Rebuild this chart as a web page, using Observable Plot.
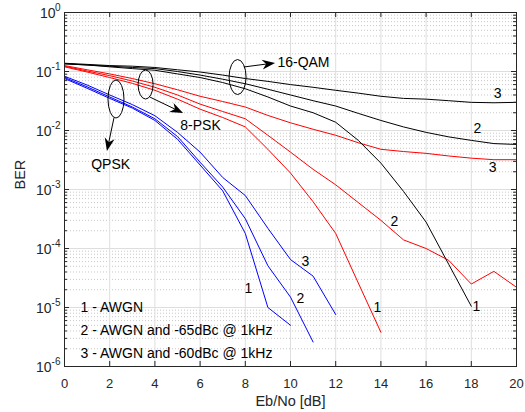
<!DOCTYPE html>
<html><head><meta charset="utf-8">
<script src="https://cdn.jsdelivr.net/npm/d3@7"></script>
<script src="https://cdn.jsdelivr.net/npm/@observablehq/plot@0.6"></script>
<style>
html,body{margin:0;padding:0;background:#fff;}
#chart svg{display:block;font-family:"Liberation Sans",Arial,sans-serif;}
</style></head><body><div id="chart"></div>
<script>
// Eb/No axis values [dB]
const ebno = [0,1,2,3,4,5,6,7,8,9,10,11,12,13,14,15,16,17,18,19,20];

// BER series (1 = AWGN, 2 = -65dBc, 3 = -60dBc)
const qpsk_1 = [0.076, 0.052, 0.035, 0.024, 0.0148, 0.0071, 0.0026, 0.00095, 0.00018, 1.0e-5, 5.0e-6];
const qpsk_2 = [0.079, 0.055, 0.037, 0.025, 0.0158, 0.0079, 0.0029, 0.0011, 0.00032, 5.1e-5, 1.5e-5, 2.6e-6];
const qpsk_3 = [0.083, 0.059, 0.040, 0.0275, 0.0178, 0.0093, 0.0043, 0.0016, 0.00079, 0.00022, 6.5e-5, 3.4e-5, 7.6e-6];
const psk8_1 = [0.120, 0.098, 0.079, 0.063, 0.048, 0.034, 0.023, 0.0166, 0.0115, 0.0048, 0.0019, 0.00062, 0.00018, 2.6e-5, 3.8e-6];
const psk8_2 = [0.123, 0.102, 0.085, 0.069, 0.054, 0.040, 0.028, 0.021, 0.0158, 0.0083, 0.0043, 0.0022, 0.0012, 0.0006, 0.0003, 0.00014, 0.0001, 6.3e-5, 2.5e-5, 4.1e-5, 2.2e-5];
const psk8_3 = [0.126, 0.107, 0.091, 0.076, 0.062, 0.049, 0.038, 0.031, 0.025, 0.018, 0.0135, 0.0105, 0.0083, 0.0062, 0.0048, 0.0044, 0.0041, 0.0037, 0.0034, 0.0032, 0.0032];
const qam16_1 = [0.135, 0.129, 0.120, 0.112, 0.105, 0.091, 0.079, 0.065, 0.051, 0.037, 0.026, 0.020, 0.0138, 0.0068, 0.0028, 0.00093, 0.00028, 5.4e-5, 1.05e-5];
const qam16_2 = [0.135, 0.129, 0.123, 0.117, 0.112, 0.100, 0.087, 0.074, 0.062, 0.050, 0.040, 0.032, 0.026, 0.0195, 0.0148, 0.0115, 0.0093, 0.0078, 0.0068, 0.006, 0.0058];
const qam16_3 = [0.138, 0.132, 0.126, 0.123, 0.117, 0.107, 0.098, 0.087, 0.076, 0.068, 0.060, 0.054, 0.048, 0.043, 0.038, 0.035, 0.034, 0.032, 0.030, 0.0295, 0.030];

// tick labels
const xTicks = [0,2,4,6,8,10,12,14,16,18,20];
const yExponents = [0,-1,-2,-3,-4,-5,-6];

// annotation texts (positions in data units)
const curveLabelText = ["1","2","3","1","2","3","1","2","3"];
const curveLabelX    = [8.14, 10.44, 10.66, 13.85, 14.6, 18.94, 18.23, 18.27, 19.16];
const curveLabelY    = [2.1e-5, 1.4e-5, 6.0e-5, 1.0e-5, 2.9e-4, 0.00236, 1.05e-5, 0.0108, 0.0424];
const noteText = ["1 - AWGN", "2 - AWGN and -65dBc @ 1kHz", "3 - AWGN and -60dBc @ 1kHz"];
const noteY = [1.0e-5, 4.1e-6, 1.66e-6];
const noteX = 0.71;
const groupNames = ["QPSK", "8-PSK", "16-QAM"];
const groupTextX = [2.04, 6.02, 9.42];
const groupTextY = [0.00265, 0.0122, 0.142];
const ellipseX = [2.30, 3.61, 7.68];
const ellipseY = [0.0335, 0.059, 0.079];
const arrowFromX = [2.21, 3.81, 7.96];
const arrowFromY = [0.016, 0.036, 0.117];
const arrowToX = [1.90, 5.27, 9.34];
const arrowToY = [0.0044, 0.0194, 0.137];

function rows(vals, key) { return vals.map((v, i) => ({x: ebno[i], y: v, key})); }
const blue = [...rows(qpsk_1,"q1"), ...rows(qpsk_2,"q2"), ...rows(qpsk_3,"q3")];
const red = [...rows(psk8_1,"p1"), ...rows(psk8_2,"p2"), ...rows(psk8_3,"p3")];
const black = [...rows(qam16_1,"m1"), ...rows(qam16_2,"m2"), ...rows(qam16_3,"m3")];

const decades = yExponents.map(e => 10 ** e);
const minors = [];
for (const e of yExponents.slice(1)) for (let d = 2; d <= 9; d++) minors.push(d * 10 ** e);

const W = 525, H = 412, mL = 64, mR = 9, mT = 12, mB = 46;
const iW = W - mL - mR, iH = H - mT - mB;
const axisColor = "#262626";
const font = "Liberation Sans, Arial, sans-serif";

const labels = curveLabelText.map((t, i) => ({t, x: curveLabelX[i], y: curveLabelY[i]}));
const notes = noteText.map((t, i) => ({t, x: noteX, y: noteY[i]}));
const groups = groupNames.map((t, i) => ({t, x: groupTextX[i], y: groupTextY[i]}));

const plot = Plot.plot({
  width: W, height: H,
  marginLeft: mL, marginRight: mR, marginTop: mT, marginBottom: mB,
  style: {fontFamily: font, background: "white", overflow: "visible"},
  x: {domain: [0, 20], axis: null},
  y: {type: "log", domain: [1e-6, 1], axis: null},
  marks: [
    Plot.ruleY(minors, {stroke: "#c8c8c8", strokeDasharray: "1,2"}),
    Plot.ruleY(decades, {stroke: "#dedede"}),
    Plot.ruleX(xTicks, {stroke: "#dedede"}),
    Plot.line(blue, {x: "x", y: "y", z: "key", stroke: "#0000ff", strokeWidth: 1}),
    Plot.line(red, {x: "x", y: "y", z: "key", stroke: "#ff0000", strokeWidth: 1}),
    Plot.line(black, {x: "x", y: "y", z: "key", stroke: "#000000", strokeWidth: 1}),
    Plot.frame({stroke: axisColor}),
    // inward ticks
    Plot.ruleX(xTicks, {stroke: axisColor, insetTop: iH - 5}),
    Plot.ruleX(xTicks, {stroke: axisColor, insetBottom: iH - 5}),
    Plot.ruleY(decades, {stroke: axisColor, insetRight: iW - 5}),
    Plot.ruleY(decades, {stroke: axisColor, insetLeft: iW - 5}),
    Plot.ruleY(minors, {stroke: axisColor, insetRight: iW - 3}),
    Plot.ruleY(minors, {stroke: axisColor, insetLeft: iW - 3}),
    // tick labels
    Plot.text(xTicks, {x: d => d, frameAnchor: "bottom", dy: 17, lineAnchor: "middle", text: d => String(d), fontSize: 13, fill: axisColor}),
    Plot.text(yExponents.filter(e => e === 0), {y: e => 10 ** e, frameAnchor: "left", dx: -9, textAnchor: "end", lineAnchor: "middle", dy: 1, text: () => "10", fontSize: 14, fill: axisColor}),
    Plot.text(yExponents.filter(e => e !== 0), {y: e => 10 ** e, frameAnchor: "left", dx: -13, textAnchor: "end", lineAnchor: "middle", dy: 1, text: () => "10", fontSize: 14, fill: axisColor}),
    Plot.text(yExponents, {y: e => 10 ** e, frameAnchor: "left", dx: -4, textAnchor: "end", lineAnchor: "middle", dy: -5, text: e => String(e), fontSize: 10, fill: axisColor}),
    // axis titles
    Plot.text(["Eb/No [dB]"], {frameAnchor: "bottom", dy: 35, lineAnchor: "middle", text: d => d, fontSize: 14.5, fill: axisColor}),
    Plot.text(["BER"], {frameAnchor: "left", dx: -44, rotate: -90, lineAnchor: "middle", text: d => d, fontSize: 14.5, fill: axisColor}),
    // annotations
    Plot.text(labels, {x: "x", y: "y", text: "t", fontSize: 14, fill: "black", lineAnchor: "middle"}),
    Plot.text(notes, {x: "x", y: "y", text: "t", fontSize: 14, fill: "black", textAnchor: "start", lineAnchor: "middle"}),
    Plot.text(groups.slice(0, 2), {x: "x", y: "y", text: "t", fontSize: 14, fill: "black", lineAnchor: "middle"}),
    Plot.text(groups.slice(2), {x: "x", y: "y", text: "t", fontSize: 14, fill: "black", textAnchor: "start", lineAnchor: "middle"})
  ]
});

// ellipses and arrows, placed through the plot's own scales
const sx = plot.scale("x"), sy = plot.scale("y");
const X = d3.scaleLinear().domain(sx.domain).range(sx.range);
const Y = d3.scaleLog().domain(sy.domain).range(sy.range);
const svg = d3.select(plot);
const g = svg.append("g").attr("fill", "none").attr("stroke", "black").attr("stroke-width", 1);
const ell = [[8, 19], [7.5, 14.5], [8.5, 17.5]];
ellipseX.forEach((cx, i) => {
  g.append("ellipse").attr("cx", X(cx)).attr("cy", Y(ellipseY[i])).attr("rx", ell[i][0]).attr("ry", ell[i][1]);
});
arrowFromX.forEach((fx, i) => {
  const x0 = X(fx), y0 = Y(arrowFromY[i]), x1 = X(arrowToX[i]), y1 = Y(arrowToY[i]);
  const dx = x1 - x0, dy = y1 - y0, len = Math.hypot(dx, dy);
  const ux = dx / len, uy = dy / len, nx = -uy, ny = ux;
  const L = 13, hw = 5, notch = 9;
  g.append("line").attr("x1", x0).attr("y1", y0).attr("x2", x1 - ux * notch).attr("y2", y1 - uy * notch);
  const pts = [
    [x1, y1],
    [x1 - ux * L + nx * hw, y1 - uy * L + ny * hw],
    [x1 - ux * notch, y1 - uy * notch],
    [x1 - ux * L - nx * hw, y1 - uy * L - ny * hw]
  ];
  g.append("polygon").attr("points", pts.map(p => p.join(",")).join(" ")).attr("fill", "black").attr("stroke", "none");
});

document.getElementById("chart").appendChild(plot);
</script>
</body></html>
